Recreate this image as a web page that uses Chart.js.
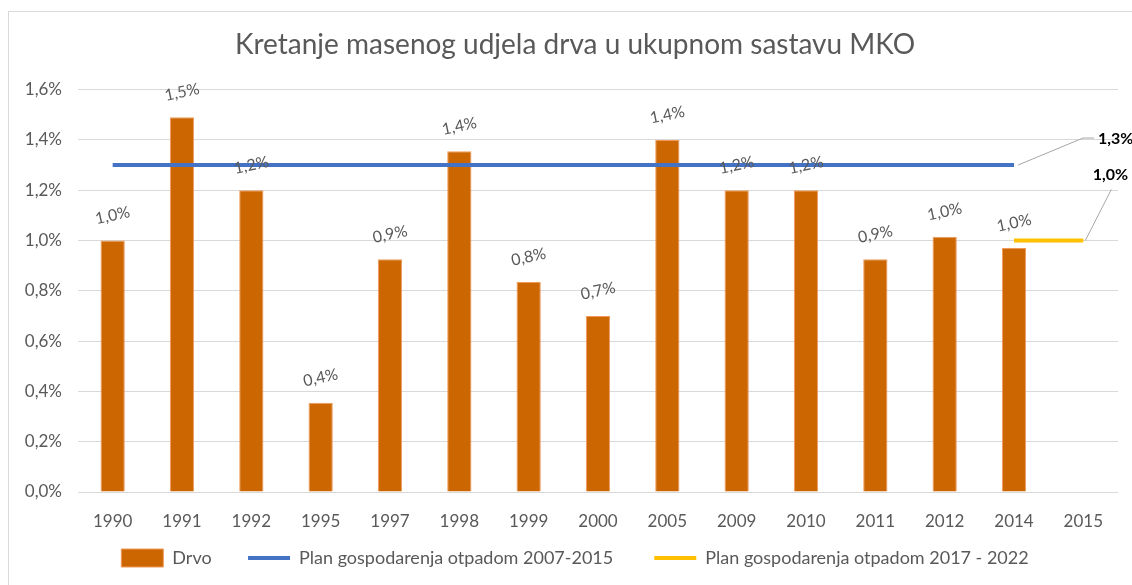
<!DOCTYPE html>
<html>
<head>
<meta charset="utf-8">
<script src="https://cdn.jsdelivr.net/npm/chart.js@4.4.1/dist/chart.umd.min.js"></script>
<style>
  body { margin: 0; background: #fff; }
  #wrap { width: 1132px; height: 585px; }
</style>
</head>
<body>
<div id="wrap"><canvas id="bar-chart" width="1132" height="585"></canvas></div>
<script>
// godine i udio drva (%)
const years = ["1990", "1991", "1992", "1995", "1997", "1998", "1999", "2000", "2005", "2009", "2010", "2011", "2012", "2014", "2015"]
const drvo = [1.0, 1.49, 1.2, 0.355, 0.925, 1.355, 0.835, 0.70, 1.4, 1.2, 1.2, 0.925, 1.015, 0.97, null]
const plan2007 = [1.3, 1.3, 1.3, 1.3, 1.3, 1.3, 1.3, 1.3, 1.3, 1.3, 1.3, 1.3, 1.3, 1.3, null]
const plan2017 = [null, null, null, null, null, null, null, null, null, null, null, null, null, 1.0, 1.0]
const yTicks = ["0,0%", "0,2%", "0,4%", "0,6%", "0,8%", "1,0%", "1,2%", "1,4%", "1,6%"]

const grey = "#595959"
const fam = "Lato, 'Noto Sans', sans-serif"

function pct(v) {
  return v.toFixed(1).replace(".", ",") + "%"
}

// okvir grafikona
const frame = {
  id: "frame",
  beforeDraw(chart) {
    const ctx = chart.ctx
    ctx.save()
    ctx.strokeStyle = "#d9d9d9"
    ctx.lineWidth = 1
    ctx.strokeRect(8.5, 11.5, 2000, 2000)
    ctx.restore()
  }
}

// oznake iznad stupaca (nakoso)
const barLabels = {
  id: "barLabels",
  afterDatasetsDraw(chart) {
    const ctx = chart.ctx
    const meta = chart.getDatasetMeta(0)
    ctx.save()
    ctx.fillStyle = grey
    ctx.font = "16px " + fam
    ctx.textAlign = "center"
    ctx.textBaseline = "middle"
    meta.data.forEach((el, i) => {
      if (drvo[i] === null) return
      ctx.save()
      ctx.translate(el.x, el.y - 25)
      ctx.rotate(-12 * Math.PI / 180)
      ctx.fillText(pct(drvo[i]), 0, 0)
      ctx.restore()
    })

    // oznake na krajevima planova
    ctx.strokeStyle = "#a6a6a6"
    ctx.lineWidth = 1
    ctx.fillStyle = "#000"
    ctx.font = "bold 16px " + fam
    let p = chart.getDatasetMeta(1).data[13]
    ctx.beginPath()
    ctx.moveTo(p.x + 4, p.y)
    ctx.lineTo(p.x + 69, p.y - 27)
    ctx.lineTo(p.x + 80, p.y - 27)
    ctx.stroke()
    ctx.textAlign = "left"
    ctx.fillText(pct(plan2007[13]), p.x + 84, p.y - 26)

    p = chart.getDatasetMeta(2).data[14]
    ctx.beginPath()
    ctx.moveTo(p.x + 2, p.y)
    ctx.lineTo(p.x + 28, p.y - 51)
    ctx.stroke()
    ctx.textAlign = "center"
    ctx.fillText(pct(plan2017[14]), p.x + 27, p.y - 66)
    ctx.restore()
  }
}

// razmak iza teksta legende
const gaps = ["    ", "     ", ""]

new Chart(document.getElementById("bar-chart"), {
  type: "bar",
  data: {
    labels: years,
    datasets: [
      {
        label: "Drvo",
        data: drvo,
        backgroundColor: "#cc6600",
        borderColor: "#f09a5a",
        borderWidth: 1,
        barPercentage: 0.35,
        categoryPercentage: 1,
        order: 1
      },
      {
        type: "line",
        label: "Plan gospodarenja otpadom 2007-2015",
        data: plan2007,
        borderColor: "#4472c4",
        backgroundColor: "#4472c4",
        borderWidth: 4,
        pointRadius: 0,
        fill: false,
        order: 0
      },
      {
        type: "line",
        label: "Plan gospodarenja otpadom 2017 - 2022",
        data: plan2017,
        borderColor: "#ffc000",
        backgroundColor: "#ffc000",
        borderWidth: 4,
        pointRadius: 0,
        fill: false,
        order: 0
      }
    ]
  },
  options: {
    responsive: false,
    animation: false,
    layout: { padding: { left: 8, right: -10, top: 20, bottom: 8 } },
    plugins: {
      title: {
        display: true,
        text: "Kretanje masenog udjela drva u ukupnom sastavu MKO",
        color: grey,
        font: { family: fam, size: 28, weight: "normal" },
        padding: { top: 8, bottom: 28 }
      },
      legend: {
        position: "bottom",
        labels: {
          color: grey,
          font: { family: fam, size: 18 },
          usePointStyle: true,
          pointStyleWidth: 42,
          padding: 18,
          sort: (a, b) => a.datasetIndex - b.datasetIndex,
          generateLabels(chart) {
            return chart.data.datasets.map((ds, i) => ({
              text: ds.label + gaps[i],
              fillStyle: ds.backgroundColor,
              strokeStyle: ds.borderColor,
              lineWidth: i === 0 ? 1 : 4,
              pointStyle: i === 0 ? "rect" : "line",
              fontColor: grey,
              datasetIndex: i,
              hidden: false
            }))
          }
        }
      },
      tooltip: { enabled: false }
    },
    scales: {
      x: {
        grid: { display: false },
        border: { display: false },
        ticks: { color: grey, font: { family: fam, size: 17 }, padding: 11, maxRotation: 0 },
        afterFit(scale) { scale.height = 39 }
      },
      y: {
        min: 0,
        max: 1.6,
        grid: { color: "#d9d9d9", drawTicks: false },
        border: { display: false },
        ticks: {
          stepSize: 0.2,
          color: grey,
          font: { family: fam, size: 17 },
          padding: 16,
          callback: (v, i) => yTicks[i]
        },
        afterFit(scale) { scale.width = 70 }
      },
      // prazan prostor desno od grafikona
      yr: {
        axis: "y",
        position: "right",
        grid: { display: false },
        border: { display: false },
        ticks: { display: false },
        afterFit(scale) { scale.width = 24 }
      }
    }
  },
  plugins: [frame, barLabels]
})
</script>
</body>
</html>
